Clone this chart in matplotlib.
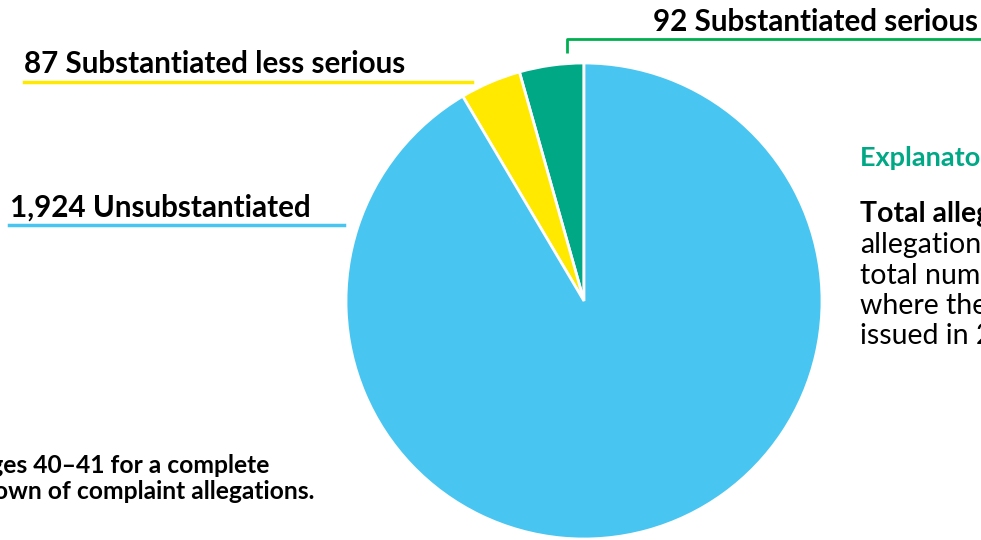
import matplotlib.pyplot as plt

plt.rcParams['font.family'] = ['Lato', 'DejaVu Sans']

# allegation outcomes
labels = ['Substantiated serious', 'Substantiated less serious', 'Unsubstantiated']
counts = [92, 87, 1924]
colors = ['#00a886', '#ffe900', '#48c5f0']
line_colors = ['#00b050', '#ffe900', '#48c5f0']

W, H = 981, 540


def Y(y):
    # pixel row (from top) -> data y
    return H - y


fig = plt.figure(figsize=(9.81, 5.4), dpi=100)
ax = fig.add_axes([0, 0, 1, 1])

ax.pie(counts, colors=colors, startangle=90, counterclock=True,
       center=(584, Y(301)), radius=238, frame=True,
       wedgeprops=dict(edgecolor='white', linewidth=2))
ax.set_xlim(0, W)
ax.set_ylim(0, H)
ax.set_aspect('equal')
ax.axis('off')

lab = [f'{c:,} {l}' for c, l in zip(counts, labels)]
fs = 21.3

# 92 Substantiated serious
ax.text(653, Y(31), lab[0], fontsize=fs, fontweight='bold', ha='left', va='baseline')
ax.plot([567, 567, 990], [Y(53), Y(39), Y(39)], color=line_colors[0], lw=2, solid_capstyle='butt')

# 87 Substantiated less serious
ax.text(24, Y(73), lab[1], fontsize=fs, fontweight='bold', ha='left', va='baseline')
ax.plot([24, 472], [Y(82), Y(82)], color=line_colors[1], lw=2.5)

# 1,924 Unsubstantiated
ax.text(10, Y(217), lab[2], fontsize=fs, fontweight='bold', ha='left', va='baseline')
ax.plot([9, 344], [Y(225), Y(225)], color=line_colors[2], lw=2.5)

# explanatory notes (run off the right edge, as in the source page)
ax.text(860, Y(166), 'Explanatory notes', fontsize=19.5, fontweight='bold',
        color='#00a886', ha='left', va='baseline')
ax.text(860, Y(222), 'Total allegations', fontsize=20.5, fontweight='bold',
        ha='left', va='baseline')
rows = ['allegations', 'total number', 'where they', 'issued in 20']
for i, r in enumerate(rows):
    ax.text(860, Y(253 + 30.5 * i), r, fontsize=20.5, ha='left', va='baseline')

ax.text(-82, Y(473), 'See pages 40\u201341 for a complete', fontsize=17.7,
        fontweight='bold', ha='left', va='baseline')
ax.text(-82, Y(499), 'breakdown of complaint allegations.', fontsize=17.7,
        fontweight='bold', ha='left', va='baseline')

fig.savefig('out.png', dpi=100)
